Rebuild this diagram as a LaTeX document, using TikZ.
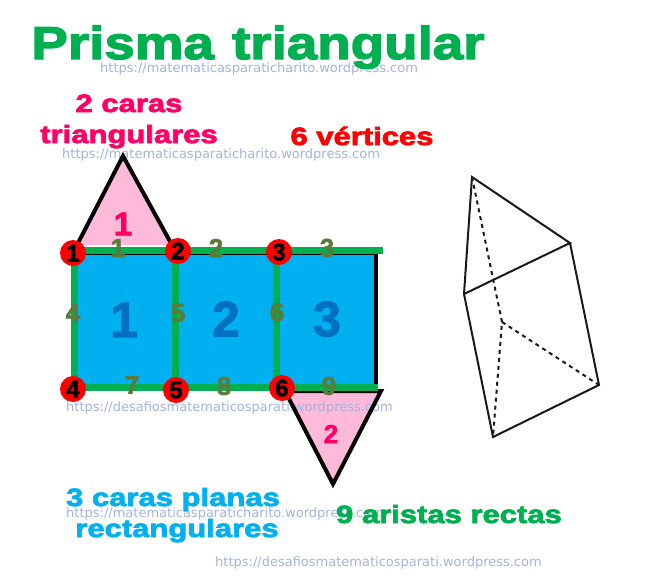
\documentclass[tikz,border=0pt]{standalone}
\usepackage{fontspec}
\newfontfamily\blk[FakeBold=3,FakeStretch=1.24]{Liberation Sans Bold}
\newfontfamily\ttl[FakeBold=3,FakeStretch=1.19]{Liberation Sans Bold}
\newfontfamily\bld[FakeBold=2]{Liberation Sans Bold}
\newfontfamily\wmf{DejaVu Sans}
\definecolor{tgreen}{HTML}{00B050}
\definecolor{tpink}{HTML}{FF0066}
\definecolor{tblue}{HTML}{00B0F0}
\definecolor{fpink}{HTML}{FFB9D9}
\definecolor{dblue}{HTML}{0070C0}
\definecolor{olive}{HTML}{5B7B3A}
\definecolor{wm}{HTML}{A3B2E2}
\tikzset{
  lbl/.style={anchor=base,inner sep=0pt,font=\blk\fontsize{#1}{#1}\selectfont},
  wmk/.style={anchor=base west,inner sep=0pt,text=wm,font=\wmf\fontsize{13}{13}\selectfont},
  edgenum/.style={inner sep=0pt,text=olive,font=\bld\fontsize{26}{26}\selectfont},
  bigface/.style={inner sep=0pt,text=dblue,font=\bld\fontsize{50}{50}\selectfont},
  tface/.style={inner sep=0pt,text=tpink,font=\bld\fontsize{#1}{#1}\selectfont},
  vtx/.style={circle,fill=red,minimum size=26pt,inner sep=0pt,text=black,font=\bld\fontsize{24}{24}\selectfont},
  gline/.style={draw=tgreen,line width=7pt},
  bline/.style={draw=black,line width=4pt},
  tri/.style={draw=black,line width=4pt,miter limit=10},
  pr/.style={draw=black!90,line width=2pt,line cap=round},
  prd/.style={draw=black!90,line width=2pt,dash pattern=on 4pt off 4pt}
}
\begin{document}
\begin{tikzpicture}[x=1pt,y=-1pt]
\useasboundingbox (0,0) rectangle (667,579);
% coordinates
\coordinate (ta) at (123,156);
\coordinate (tl) at (77,245);
\coordinate (tr) at (172,245);
\coordinate (ba) at (333,484);
\coordinate (bl) at (285,391);
\coordinate (br) at (381,391);
\coordinate (r1) at (73,253);
\coordinate (r2) at (376,253);
\coordinate (r3) at (376,387);
\coordinate (r4) at (73,387);
% faces
\fill[fpink] (ta) -- (tl) -- (tr) -- cycle;
\fill[fpink] (ba) -- (bl) -- (br) -- cycle;
\fill[tblue] (r1) rectangle (r3);
% watermarks under
\node[wmk] (w1) at (100,72) {https://matematicasparaticharito.wordpress.com};
\node[wmk] (w2) at (62,158) {https://matematicasparaticharito.wordpress.com};
\node[wmk] (w3) at (66,411) {https://desafiosmatematicosparati.wordpress.com};
\node[wmk] (w4) at (66,517) {https://matematicasparaticharito.wordpress.com};
\node[wmk] (w5) at (215,566) {https://desafiosmatematicosparati.wordpress.com};
% triangle outlines
\draw[tri] (tl) -- (ta) -- (tr);
\draw[tri] (bl) -- (ba) -- (br) -- (bl);
% rectangle
\draw[bline] (r1) -- (r2) -- (r3);
\coordinate (g1) at (73,250); \coordinate (g1e) at (383,250);
\coordinate (g2) at (73,387); \coordinate (g2e) at (378,387);
\coordinate (m1) at (175,250); \coordinate (m1e) at (175,387);
\coordinate (m2) at (276,250); \coordinate (m2e) at (276,387);
\coordinate (l1) at (74,250); \coordinate (l1e) at (74,387);
\draw[gline] (g1) -- (g1e);
\draw[gline] (g2) -- (g2e);
\draw[gline] (l1) -- (l1e);
\draw[gline] (m1) -- (m1e);
\draw[gline] (m2) -- (m2e);
% vertices
\node[vtx] (v1) at (73,253) {1};
\node[vtx] (v2) at (178,251) {2};
\node[vtx] (v3) at (279,252) {3};
\node[vtx] (v4) at (73,389) {4};
\node[vtx] (v5) at (176,390) {5};
\node[vtx] (v6) at (282,388) {6};
% edge numbers
\node[edgenum] (e1) at (118,248) {1};
\node[edgenum] (e2) at (216,248) {2};
\node[edgenum] (e3) at (327,248) {3};
\node[edgenum] (e4) at (73,313) {4};
\node[edgenum] (e5) at (178,313) {5};
\node[edgenum] (e6) at (277,312) {6};
\node[edgenum] (e7) at (132,385) {7};
\node[edgenum] (e8) at (224,386) {8};
\node[edgenum] (e9) at (329,386) {9};
% face numbers
\node[bigface] (f1) at (124,320) {1};
\node[bigface] (f2) at (226,319) {2};
\node[bigface] (f3) at (327,319) {3};
\node[tface=33] (p1) at (123,224) {1};
\node[tface=26] (p2) at (331,434) {2};
% titles
\node[anchor=base,inner sep=0pt,text=tgreen,font=\ttl\fontsize{46}{46}\selectfont] (title) at (258,59) {Prisma\hspace{3pt} triangular};
\node[lbl=25,text=tpink] (c1) at (129,112) {2 caras};
\node[lbl=25,text=tpink] (c2) at (129,143) {triangulares};
\node[lbl=25,text=red] (c3) at (362,145) {6 vértices};
\node[lbl=25,text=tblue] (c4) at (173,506) {3 caras planas};
\node[lbl=25,text=tblue] (c5) at (177,537) {rectangulares};
\node[lbl=25,text=tgreen] (c6) at (449,523) {9 aristas rectas};
% prism
\coordinate (A) at (472,177);
\coordinate (B) at (570,243);
\coordinate (C) at (464,294);
\coordinate (D) at (599,385);
\coordinate (E) at (493,437);
\coordinate (F) at (502,322);
\draw[pr] (C) -- (A) -- (B) -- (C) -- (E) -- (D) -- (B);
\draw[prd] (A) -- (F) -- (E);
\draw[prd] (F) -- (D);
\end{tikzpicture}
\end{document}
